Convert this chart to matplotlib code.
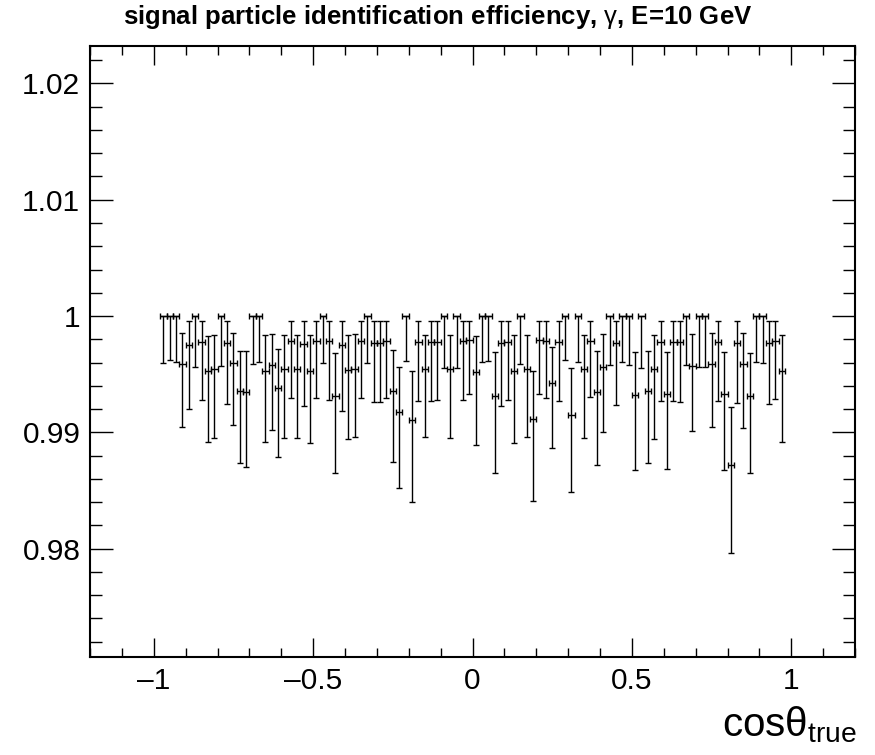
import numpy as np
import matplotlib
matplotlib.use('Agg')
import matplotlib.pyplot as plt
from matplotlib.ticker import MultipleLocator, FuncFormatter

plt.rcParams['font.family'] = ['Liberation Sans', 'DejaVu Sans']
plt.rcParams['mathtext.fontset'] = 'custom'
plt.rcParams['mathtext.rm'] = 'Liberation Sans'
plt.rcParams['mathtext.it'] = 'Liberation Sans:italic'

# 98 bins of 0.02 in cos(theta_true), from -0.98 to 0.98
n_bins = 98
edges = np.linspace(-0.98, 0.98, n_bins + 1)
centers = 0.5 * (edges[1:] + edges[:-1])
half_width = 0.5 * (edges[1:] - edges[:-1])

# efficiency per bin
eff = [
    1.0, 1.0, 1.0, 0.99587, 0.99754, 1.0, 0.99776, 0.99530, 0.99541, 1.0,
    0.99765, 0.99593, 0.99358, 0.99347, 1.0,
    1.0, 0.99530, 0.99582, 0.99381, 0.99541, 0.99782, 0.99541, 0.99759, 0.99524, 0.99782,
    1.0, 0.99782, 0.99312, 0.99754, 0.99536, 0.99547, 0.99782,
    1.0, 0.99771, 0.99771, 0.99782, 0.99358, 0.99175, 1.0, 0.99106, 0.99776, 0.99547,
    0.99776, 0.99776, 1.0, 0.99541, 1.0, 0.99782, 0.99794,
    0.99519, 1.0, 1.0, 0.99312, 0.99765, 0.99776, 0.99524, 1.0, 0.99547, 0.99112,
    0.99794, 0.99782, 0.99421, 0.99776, 1.0, 0.99152, 1.0,
    0.99541, 0.99788, 0.99347, 0.99564, 1.0, 0.99765, 1.0, 1.0, 0.99318, 1.0,
    0.99352, 0.99541, 0.99776, 0.99329, 0.99776, 0.99776, 1.0,
    0.99570, 1.0, 1.0, 0.99587, 0.99776, 0.99329, 0.98716, 0.99771, 0.99587, 0.99312,
    1.0, 1.0, 0.99765, 0.99782, 0.99530,
]

# upper end of the error bar
eff_hi = [
    1.0, 1.0, 1.0, 0.99851, 0.99954, 1.0, 0.99960, 0.99831, 0.99840, 1.0,
    0.99954, 0.99851, 0.99702, 0.99696, 1.0,
    1.0, 0.99834, 0.99845, 0.99713, 0.99840, 0.99960, 0.99840, 0.99954, 0.99834, 0.99960,
    1.0, 0.99960, 0.99685, 0.99954, 0.99837, 0.99842, 0.99960,
    1.0, 0.99960, 0.99960, 0.99960, 0.99708, 0.99564, 1.0, 0.99530, 0.99960, 0.99840,
    0.99960, 0.99960, 1.0, 0.99840, 1.0, 0.99960, 0.99960,
    0.99828, 1.0, 1.0, 0.99688, 0.99954, 0.99960, 0.99834, 1.0, 0.99840, 0.99530,
    0.99960, 0.99960, 0.99731, 0.99960, 1.0, 0.99553, 1.0,
    0.99840, 0.99960, 0.99696, 0.99845, 1.0, 0.99954, 1.0, 1.0, 0.99688, 1.0,
    0.99702, 0.99840, 0.99960, 0.99690, 0.99960, 0.99960, 1.0,
    0.99845, 1.0, 1.0, 0.99851, 0.99960, 0.99688, 0.99220, 0.99960, 0.99851, 0.99685,
    1.0, 1.0, 0.99954, 0.99960, 0.99834,
]

# lower end of the error bar
eff_lo = [
    0.99596, 0.99622, 0.99607, 0.99043, 0.99198, 0.99564, 0.99278, 0.98919, 0.98948, 0.99570,
    0.99241, 0.99060, 0.98736, 0.98705, 0.99585,
    0.99602, 0.98914, 0.99020, 0.98791, 0.98951, 0.99292, 0.98948, 0.99226, 0.98905, 0.99292,
    0.99599, 0.99278, 0.98653, 0.99186, 0.98940, 0.98962, 0.99295,
    0.99599, 0.99258, 0.99263, 0.99295, 0.98745, 0.98518, 0.99610, 0.98403, 0.99272, 0.98957,
    0.99272, 0.99278, 0.99553, 0.98948, 0.99553, 0.99281, 0.99329,
    0.98894, 0.99607, 0.99616, 0.98653, 0.99229, 0.99278, 0.98908, 0.99587, 0.98962, 0.98412,
    0.99329, 0.99295, 0.98865, 0.99272, 0.99622, 0.98483, 0.99607,
    0.98951, 0.99306, 0.98716, 0.99003, 0.99576, 0.99232, 0.99604, 0.99576, 0.98676, 0.99553,
    0.98733, 0.98940, 0.99266, 0.98682, 0.99272, 0.99263, 0.99582,
    0.99008, 0.99559, 0.99564, 0.99043, 0.99266, 0.98676, 0.97959, 0.99249, 0.99037, 0.98647,
    0.99607, 0.99599, 0.99241, 0.99289, 0.98919,
]

eff = np.array(eff)
yerr = [eff - np.array(eff_lo), np.array(eff_hi) - eff]

fig = plt.figure(figsize=(8.75, 7.55), dpi=100)
ax = fig.add_axes([0.1029, 0.1298, 0.8743, 0.8093])

ax.errorbar(centers, eff, xerr=half_width, yerr=yerr, fmt='none',
            ecolor='black', elinewidth=1.0, capsize=2.0, capthick=1.0)

ax.set_xlim(-1.2, 1.2)
ax.set_ylim(0.97068, 1.02322)

ax.xaxis.set_major_locator(MultipleLocator(0.5))
ax.xaxis.set_minor_locator(MultipleLocator(0.1))
ax.yaxis.set_major_locator(MultipleLocator(0.01))
ax.yaxis.set_minor_locator(MultipleLocator(0.002))

fmt = FuncFormatter(lambda v, p: ('%g' % round(v, 6)).replace('-', '\u2013'))
ax.xaxis.set_major_formatter(fmt)
ax.yaxis.set_major_formatter(fmt)

ax.tick_params(axis='both', which='both', direction='in', top=True, right=True,
               labelsize=21.5, width=1.0, pad=7)
ax.tick_params(axis='x', which='major', length=13.7)
ax.tick_params(axis='x', which='minor', length=6.8)
ax.tick_params(axis='y', which='major', length=16.5)
ax.tick_params(axis='y', which='minor', length=8.3)
for s in ax.spines.values():
    s.set_linewidth(1.5)

fig.text(0.5, 0.977, r'signal particle identification efficiency, $\mathrm{\gamma}$, E=10 GeV',
         ha='center', va='center', fontsize=18.5, fontweight='bold')
fig.text(857 / 875, 0.0245, r'$\mathrm{cos\theta_{true}}$', ha='right', va='baseline',
         fontsize=29)

fig.savefig('out.png', dpi=100)
